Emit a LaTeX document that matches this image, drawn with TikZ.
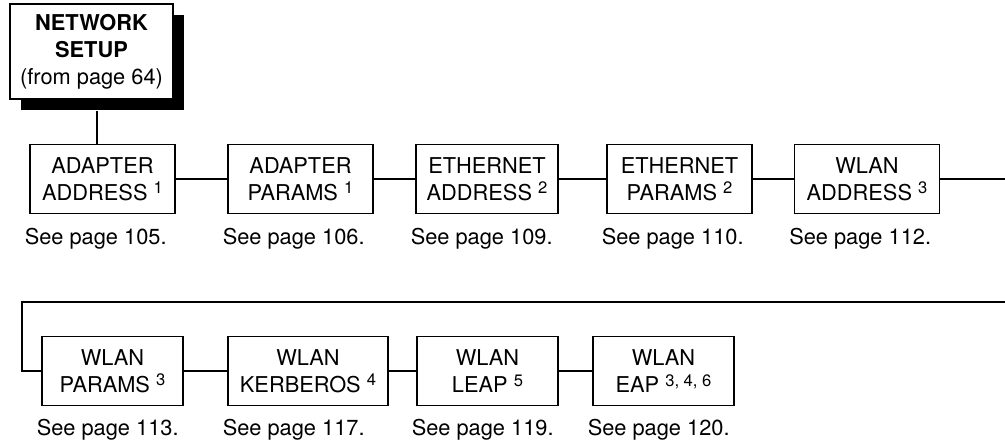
\documentclass[tikz,border=0pt]{standalone}
\usepackage{fontspec}
\setmainfont{TeX Gyre Heros}
\usetikzlibrary{shadows}

\newcommand{\nota}[1]{\raisebox{0.55ex}{\fontsize{8.3}{8.3}\selectfont #1}}

\tikzset{
  menubox/.style={draw, line width=0.65pt, fill=white, align=center,
    minimum width=72.5pt, minimum height=34.5pt, inner sep=0pt,
    font=\fontsize{10.9}{13.4}\selectfont},
  pagina/.style={anchor=base west, inner sep=0pt,
    font=\fontsize{10.9}{13.4}\selectfont},
  linea/.style={line width=0.65pt}
}

\begin{document}
\begin{tikzpicture}[x=0.5pt, y=-0.5pt]
        \useasboundingbox (0,0) rectangle (1005,444);

        % Menu di partenza
        \node[menubox, minimum width=81.5pt, minimum height=47.5pt,
              drop shadow={shadow xshift=5.5pt, shadow yshift=-5.5pt,
                           fill=black, opacity=1}]
            (setup) at (91.5,51.5)
            {\textbf{NETWORK}\\\textbf{SETUP}\\(from page 64)};
        \coordinate (drop) at (97,111);

        % Prima riga
        \node[menubox] (aaddr) at (102.5,179) {ADAPTER\\ADDRESS \nota{1}};
        \node[menubox] (apar)  at (300.5,179) {ADAPTER\\PARAMS \nota{1}};
        \node[menubox, minimum width=71pt] (eaddr) at (487,179) {ETHERNET\\ADDRESS \nota{2}};
        \node[menubox] (epar)  at (679.5,179) {ETHERNET\\PARAMS \nota{2}};
        \node[menubox] (waddr) at (867,179) {WLAN\\ADDRESS \nota{3}};

        % Seconda riga
        \node[menubox, minimum width=70.5pt] (wpar)  at (112.5,371) {WLAN\\PARAMS \nota{3}};
        \node[menubox, minimum width=80pt]   (wkerb) at (308,371)   {WLAN\\KERBEROS \nota{4}};
        \node[menubox, minimum width=70.5pt] (wleap) at (487.5,371) {WLAN\\LEAP \nota{5}};
        \node[menubox, minimum width=70.5pt] (weap)  at (663.5,371) {WLAN\\EAP \nota{3, 4, 6}};

        % Rimandi alle pagine
        \node[pagina] (paaddr) at ([shift={(-2.5pt,-15pt)}]aaddr.south west) {See page 105.};
        \node[pagina] (papar)  at ([shift={(-2.5pt,-15pt)}]apar.south west)  {See page 106.};
        \node[pagina] (peaddr) at ([shift={(-2.5pt,-15pt)}]eaddr.south west) {See page 109.};
        \node[pagina] (pepar)  at ([shift={(-2.5pt,-15pt)}]epar.south west)  {See page 110.};
        \node[pagina] (pwaddr) at ([shift={(-2.5pt,-15pt)}]waddr.south west) {See page 112.};
        \node[pagina] (pwpar)  at ([shift={(-2.5pt,-14.5pt)}]wpar.south west)  {See page 113.};
        \node[pagina] (pwkerb) at ([shift={(-2.5pt,-14.5pt)}]wkerb.south west) {See page 117.};
        \node[pagina] (pwleap) at ([shift={(-2.5pt,-14.5pt)}]wleap.south west) {See page 119.};
        \node[pagina] (pweap)  at ([shift={(-2.5pt,-14.5pt)}]weap.south west)  {See page 120.};

        % Collegamenti
        \coordinate (fineA) at (1005,179);
        \coordinate (rientroR) at (1005,302);
        \coordinate (rientroL) at (22,302);
        \draw[linea] (drop) -- (drop |- aaddr.north);
        \draw[linea] (aaddr) -- (apar);
        \draw[linea] (apar) -- (eaddr);
        \draw[linea] (eaddr) -- (epar);
        \draw[linea] (epar) -- (waddr);
        \draw[linea] (waddr) -- (fineA);
        \draw[linea] (rientroR) -- (rientroL) |- (wpar);
        \draw[linea] (wpar) -- (wkerb);
        \draw[linea] (wkerb) -- (wleap);
        \draw[linea] (wleap) -- (weap);
    \end{tikzpicture}
\end{document}
